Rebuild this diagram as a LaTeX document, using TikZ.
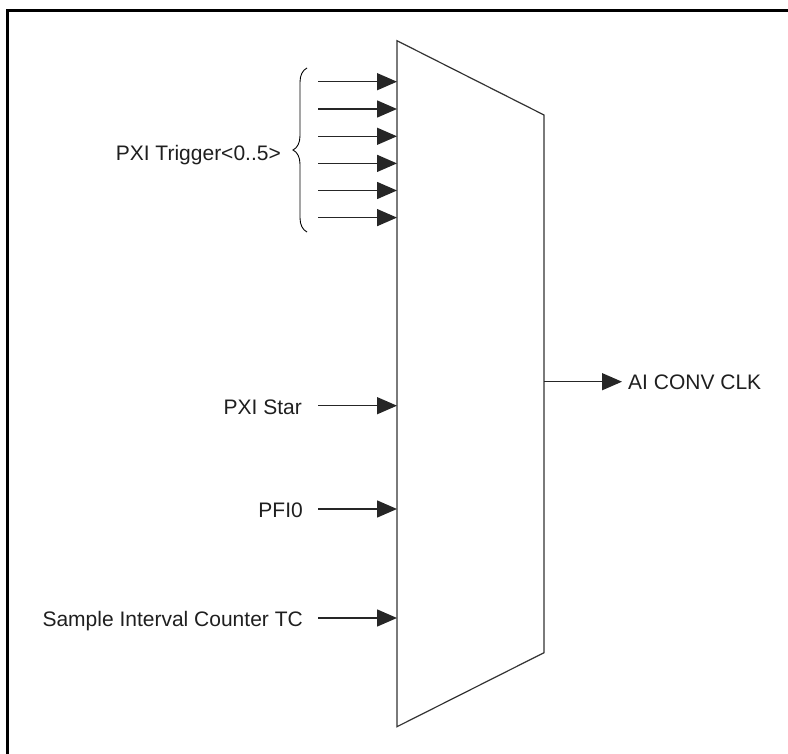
\documentclass[tikz,border=0pt]{standalone}
\usepackage{fontspec}
\setmainfont{Liberation Sans}
\usetikzlibrary{arrows.meta,decorations.pathreplacing}
\begin{document}
\begin{tikzpicture}[x=1pt,y=-1pt,
  lbl/.style={inner sep=0pt,font=\fontsize{21}{25}\selectfont,text height=15pt,text depth=0pt,text=black!88},
  sig/.style={line width=1.5pt,draw=black!85,-{Triangle[length=20pt,width=17pt]}},
  muxline/.style={line width=1.2pt,draw=black!80,line join=miter},
  frame/.style={line width=2.4pt,draw=black}]
\useasboundingbox (0,0) rectangle (788,754);
% frame
\draw[frame] (7.5,754) -- (7.5,10.5) -- (788,10.5);
% mux
\coordinate (mtl) at (397,40.7);
\coordinate (mtr) at (544,115);
\coordinate (mbr) at (544,652.7);
\coordinate (mbl) at (397,726.7);
\draw[muxline] (mtl) -- (mtr) -- (mbr) -- (mbl) -- cycle;
% trigger inputs
\foreach \i/\y in {0/81.7,1/109,2/136.3,3/163.4,4/190.5,5/217.6}{
  \coordinate (ts\i) at (318,\y);
  \coordinate (te\i) at (397,\y);
  \draw[sig] (ts\i) -- (te\i);
}
\coordinate (bb) at (307,232);
\coordinate (bt) at (307,68);
\draw[line width=0.9pt,decorate,decoration={brace,amplitude=14pt}] (bb) -- (bt);
\node[lbl,anchor=east] (trig) at (281,153) {PXI Trigger<0..5>};
% other inputs
\node[lbl,anchor=east] (star) at (302,407) {PXI Star};
\coordinate (stare) at (397,405.7);
\draw[sig] ([xshift=16pt]star.east |- stare) -- (stare);
\node[lbl,anchor=east] (pfi) at (303,510) {PFI0};
\coordinate (pfie) at (397,509);
\draw[sig] ([xshift=15pt]pfi.east |- pfie) -- (pfie);
\node[lbl,anchor=east] (sic) at (303,619) {Sample Interval Counter TC};
\coordinate (sice) at (397,618);
\draw[sig] ([xshift=15pt]sic.east |- sice) -- (sice);
% output
\coordinate (outs) at (544,381.7);
\node[lbl,anchor=west] (out) at (628,382) {AI CONV CLK};
\draw[sig] (outs) -- ([xshift=-6pt]out.west |- outs);
\end{tikzpicture}
\end{document}
